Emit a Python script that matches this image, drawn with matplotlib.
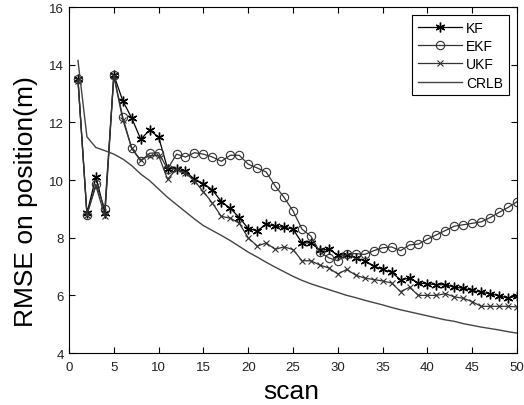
import numpy as np
import matplotlib.pyplot as plt

plt.rcParams['font.family'] = ['Liberation Sans', 'DejaVu Sans']

scan = np.arange(1, 51)

kf = [13.5, 8.85, 10.1, 8.87, 13.65, 12.75, 12.15, 11.42, 11.73, 11.49,
      10.4, 10.38, 10.3, 10.03, 9.88, 9.66, 9.25, 9.02, 8.7, 8.32,
      8.24, 8.47, 8.4, 8.36, 8.3, 7.82, 7.82, 7.57, 7.6, 7.4,
      7.4, 7.3, 7.2, 7.02, 6.9, 6.8, 6.54, 6.6, 6.43, 6.4,
      6.37, 6.37, 6.28, 6.25, 6.17, 6.11, 6.05, 5.99, 5.9, 5.99]

ekf = [13.5, 8.8, 9.86, 9.0, 13.64, 12.18, 11.1, 10.66, 10.93, 10.95,
       10.38, 10.9, 10.8, 10.95, 10.9, 10.8, 10.65, 10.86, 10.86, 10.55,
       10.42, 10.28, 9.8, 9.4, 8.93, 8.3, 8.05, 7.5, 7.3, 7.2,
       7.43, 7.45, 7.42, 7.55, 7.65, 7.68, 7.55, 7.75, 7.78, 7.95,
       8.1, 8.25, 8.4, 8.45, 8.5, 8.55, 8.7, 8.88, 9.05, 9.25]

ukf = [13.45, 8.8, 9.8, 8.75, 13.6, 12.1, 11.1, 10.7, 10.85, 10.85,
       10.03, 10.38, 10.25, 9.97, 9.6, 9.2, 8.74, 8.68, 8.5, 8.0,
       7.71, 7.82, 7.6, 7.68, 7.59, 7.2, 7.2, 7.05, 6.95, 6.74,
       6.9, 6.7, 6.6, 6.55, 6.5, 6.43, 6.13, 6.28, 6.0, 6.0,
       6.0, 6.06, 5.95, 5.9, 5.78, 5.62, 5.62, 5.62, 5.62, 5.6]

crlb = [14.15, 11.5, 11.13, 11.02, 10.9, 10.73, 10.5, 10.21, 9.98, 9.69,
        9.4, 9.15, 8.9, 8.65, 8.42, 8.25, 8.08, 7.9, 7.7, 7.5,
        7.33, 7.15, 6.98, 6.82, 6.66, 6.52, 6.4, 6.3, 6.2, 6.1,
        6.0, 5.92, 5.83, 5.75, 5.67, 5.58, 5.5, 5.43, 5.36, 5.29,
        5.22, 5.15, 5.1, 5.02, 4.96, 4.9, 4.85, 4.8, 4.74, 4.69]

fig = plt.figure(figsize=(5.24, 4.06), dpi=100)
ax = fig.add_axes([0.1317, 0.128, 0.855, 0.852])

ax.plot(scan, kf, color='black', marker=(6, 2, 0), markersize=7, markeredgewidth=1.0,
        linewidth=0.9, label='KF')
ax.plot(scan, ekf, color='#333333', marker='o', markersize=6, markerfacecolor='none',
        markeredgewidth=0.8, linewidth=0.9, label='EKF')
ax.plot(scan, ukf, color='#333333', marker='x', markersize=4.5, markeredgewidth=0.8,
        linewidth=0.9, label='UKF')
ax.plot(scan, crlb, color='#444444', linewidth=1.0, label='CRLB')

ax.set_xlim(0, 50)
ax.set_ylim(4, 16)
ax.set_xticks(np.arange(0, 51, 5))
ax.set_yticks(np.arange(4, 17, 2))
ax.tick_params(direction='in', top=True, right=True, labelsize=9.5, length=4,
               labelcolor='#222222')
ax.tick_params(axis='x', pad=6)
for s in ax.spines.values():
    s.set_linewidth(0.8)

ax.set_xlabel('scan', fontsize=19, va='center')
ax.xaxis.set_label_coords(0.497, -0.11)
ax.set_ylabel('RMSE on position(m)', fontsize=19)
ax.yaxis.set_label_coords(-0.07, 0.44)

leg = ax.legend(loc='upper right', fontsize=10, fancybox=False, framealpha=1,
                edgecolor='black', handlelength=3.2, borderaxespad=0.6,
                labelspacing=0.3, handletextpad=0.3)
leg.get_frame().set_linewidth(0.8)

fig.savefig('out.png', dpi=100)
